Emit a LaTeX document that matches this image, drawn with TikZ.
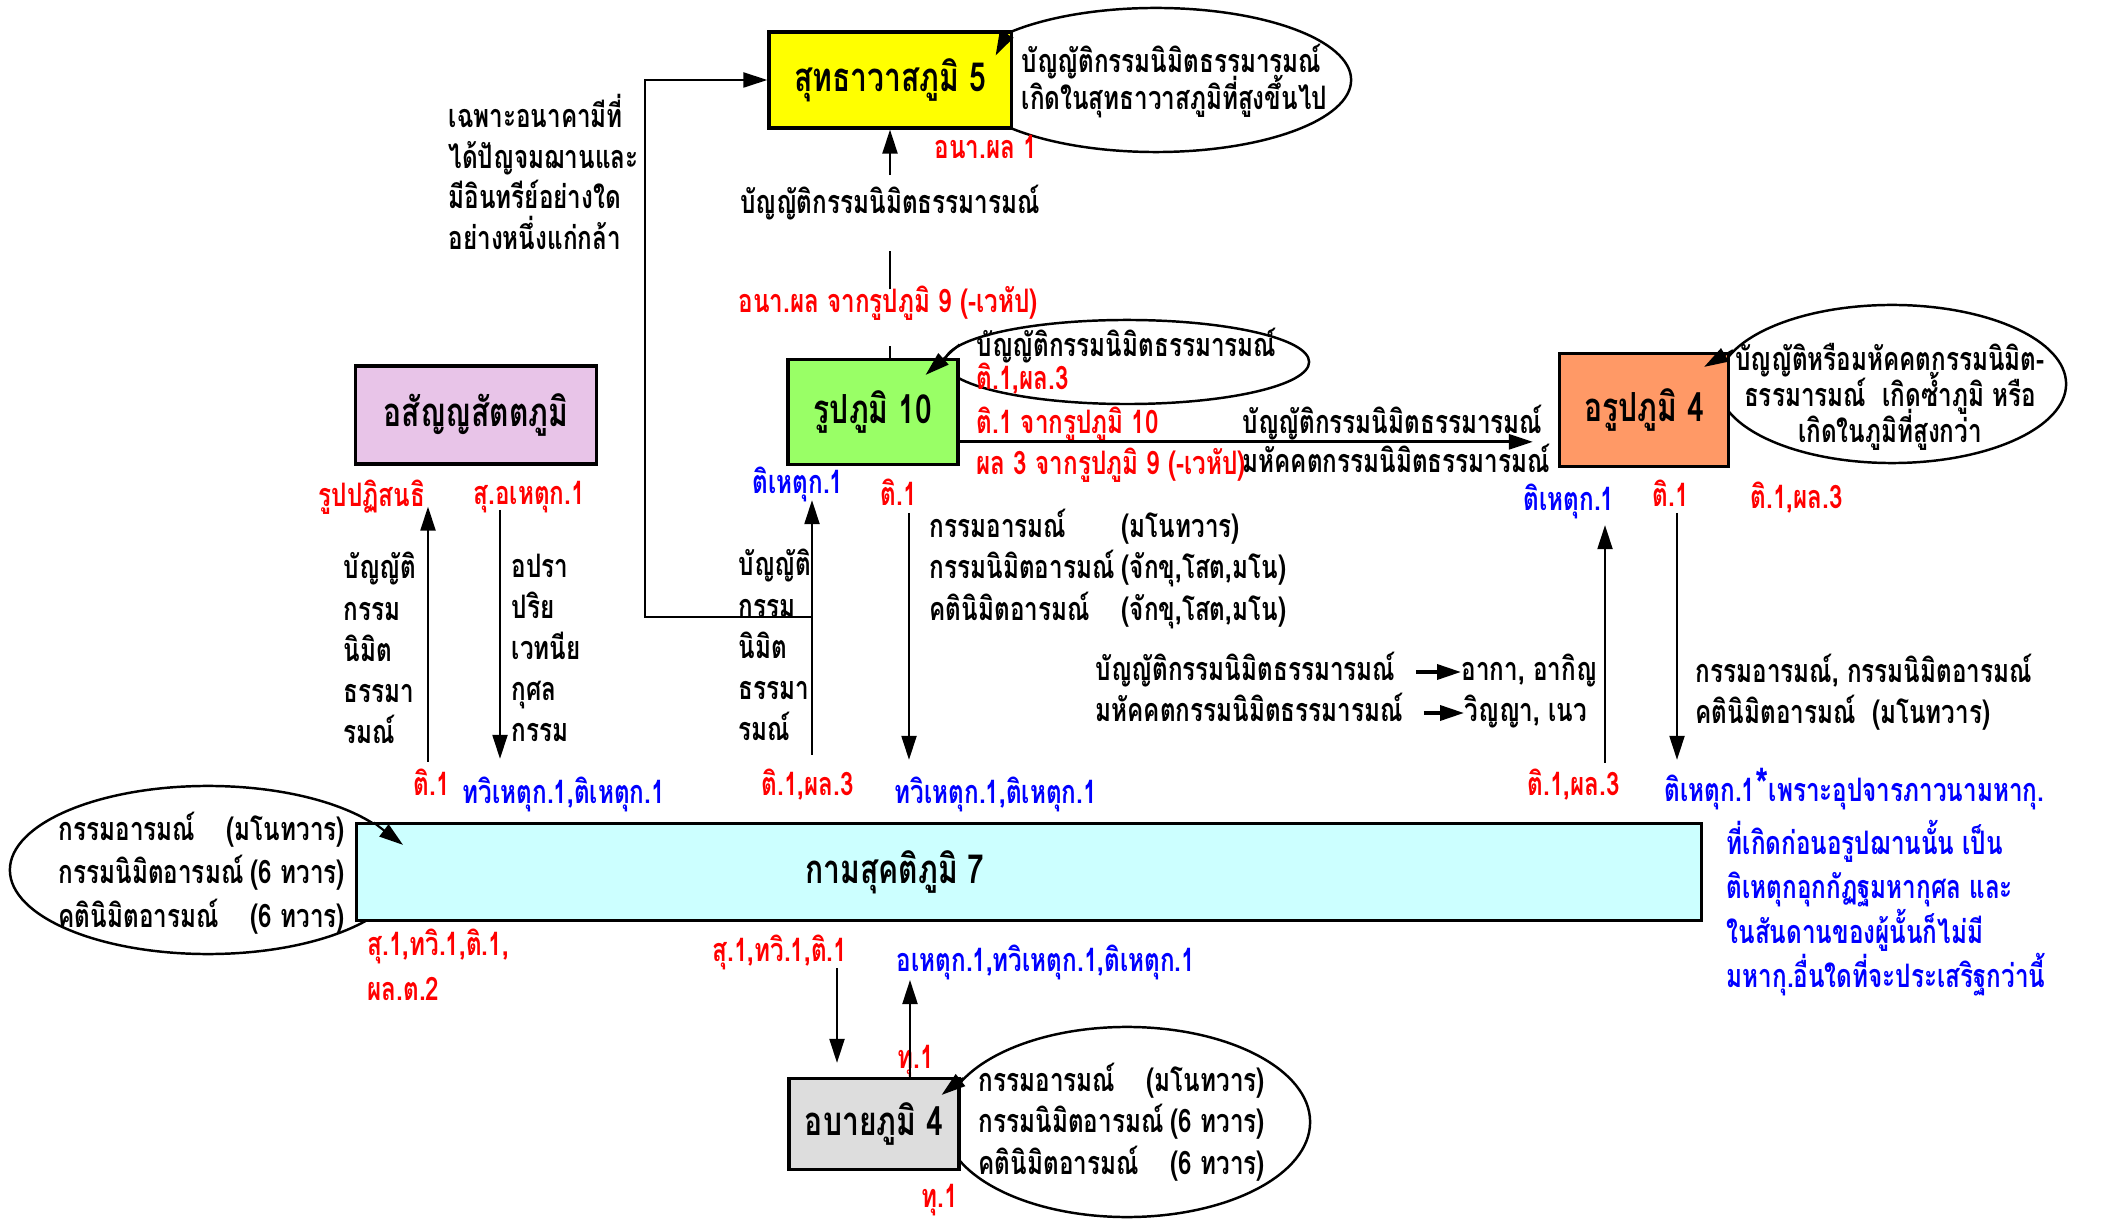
\documentclass[tikz,border=0pt]{standalone}
\usepackage{fontspec}
\setmainfont[Script=Thai, FakeStretch=0.75]{Loma}
\usepackage{xcolor}
\usepackage{tikz}
\usetikzlibrary{shapes}
\usetikzlibrary{arrows.meta}

\definecolor{suddhacol}{HTML}{FFFF00}
\definecolor{rupacol}{HTML}{99FF66}
\definecolor{arupacol}{HTML}{FF9966}
\definecolor{asanyacol}{HTML}{E8C4E8}
\definecolor{kamacol}{HTML}{CCFFFF}
\definecolor{apayacol}{HTML}{DDDDDD}
\lineskiplimit=-100pt

\begin{document}
\begin{tikzpicture}
[
    x = 0.01cm, y = -0.01cm,
    every node/.append style = {font = \fontsize{9.2}{11.7}\selectfont\bfseries, inner sep = 0pt},
    bhumi/.style = {draw, line width = 0.9pt, font = \fontsize{11.4}{12}\selectfont\bfseries},
    bubble/.style = {draw, ellipse, line width = 0.7pt},
    lbl/.style = {anchor = west, text height = 7.4pt, text depth = 2.6pt},
    redlbl/.style = {lbl, text = red},
    bluelbl/.style = {lbl, text = blue},
    block/.style = {anchor = west, align = left},
    arr/.style = {-{Triangle[length = 2.4mm, width = 1.5mm]}, line width = 0.6pt}]

\useasboundingbox (0,0) rectangle (2109,1219);

\node[bubble, minimum width = 3.9cm, minimum height = 1.44cm] (suddhaell) at (1156,80) {};
\node[bubble, minimum width = 3.64cm, minimum height = 0.84cm] (rupaell) at (1127,362) {};
\node[bubble, minimum width = 3.48cm, minimum height = 1.58cm] (arupaell) at (1892,384) {};
\node[bubble, minimum width = 3.96cm, minimum height = 1.68cm] (kamaell) at (208,870) {};
\node[bubble, minimum width = 3.66cm, minimum height = 1.9cm] (apayaell) at (1127,1122) {};

\node[bhumi, fill = suddhacol, minimum width = 2.42cm, minimum height = 0.96cm] (suddha) at (890,80) {สุทธาวาสภูมิ 5};
\node[bhumi, fill = rupacol, minimum width = 1.70cm, minimum height = 1.05cm] (rupa) at (873,412) {รูปภูมิ 10};
\node[bhumi, fill = arupacol, minimum width = 1.69cm, minimum height = 1.13cm] (arupa) at (1644,410) {อรูปภูมิ 4};
\node[bhumi, fill = asanyacol, minimum width = 2.41cm, minimum height = 0.98cm] (asanya) at (476,415) {อสัญญสัตตภูมิ};
\node[bhumi, fill = kamacol, minimum width = 13.44cm, minimum height = 0.97cm] (kama) at (1029,872) {};
\node[bhumi, fill = apayacol, minimum width = 1.70cm, minimum height = 0.91cm] (apaya) at (874,1124) {อบายภูมิ 4};
\node[font = \fontsize{11.4}{12}\selectfont\bfseries] (kamatxt) at (895,872) {กามสุคติภูมิ 7};

\node[block, font = \fontsize{9.2}{11.5}\selectfont\bfseries] (anagami) at (448,172) {เฉพาะอนาคามีที่\\ได้ปัญจมฌานและ\\มีอินทรีย์อย่างใด\\อย่างหนึ่งแก่กล้า};
\node[block, font = \fontsize{9.2}{10.5}\selectfont\bfseries] (suddhanote) at (1021,81) {บัญญัติกรรมนิมิตธรรมารมณ์\\เกิดในสุทธาวาสภูมิที่สูงขึ้นไป};
\node[redlbl] (anaphon1) at (934,150) {อนา.ผล 1};
\node[lbl, anchor = center] (bancha1) at (890,205) {บัญญัติกรรมนิมิตธรรมารมณ์};
\node[redlbl, anchor = center] (anaphon9) at (888,304) {อนา.ผล จากรูปภูมิ 9 (-เวหัป)};
\node[lbl] (rupanote) at (976,348) {บัญญัติกรรมนิมิตธรรมารมณ์};
\node[redlbl] (rupanote2) at (976,381) {ติ.1,ผล.3};
\node[redlbl] (tirupa10) at (976,425) {ติ.1 จากรูปภูมิ 10};
\node[redlbl] (phonrupa9) at (976,466) {ผล 3 จากรูปภูมิ 9 (-เวหัป)};
\node[lbl] (bancha2) at (1242,425) {บัญญัติกรรมนิมิตธรรมารมณ์};
\node[lbl] (mahakkata) at (1242,464) {มหัคคตกรรมนิมิตธรรมารมณ์};
\node[align = center, font = \fontsize{9.2}{10.2}\selectfont\bfseries] (arupanote) at (1890,397) {บัญญัติหรือมหัคคตกรรมนิมิต-\\ธรรมารมณ์~ เกิดซ้ำภูมิ หรือ\\เกิดในภูมิที่สูงกว่า};

\node[redlbl] (rupapati) at (318,498) {รูปปฏิสนธิ};
\node[redlbl] (suahetu) at (473,496) {สุ.อเหตุก.1};
\node[block] (pinkleft) at (343,648) {บัญญัติ\\กรรม\\นิมิต\\ธรรมา\\รมณ์};
\node[block] (pinkright) at (511,648) {อปรา\\ปริย\\เวทนีย\\กุศล\\กรรม};
\node[redlbl] (tipink) at (413,787) {ติ.1};
\node[bluelbl] (dvipink) at (462,795) {ทวิเหตุก.1,ติเหตุก.1};

\node[bluelbl] (tihetrupa) at (752,485) {ติเหตุก.1};
\node[redlbl] (tirupa) at (880,497) {ติ.1};
\node[block] (rupacolumn) at (738,645) {บัญญัติ\\กรรม\\นิมิต\\ธรรมา\\รมณ์};
\node[redlbl] (tiphonrupa) at (761,787) {ติ.1,ผล.3};
\node[bluelbl] (dvirupa) at (894,795) {ทวิเหตุก.1,ติเหตุก.1};
\node[block] (rupaaram) at (929,569) {\makebox[1.92cm][l]{กรรมอารมณ์}(มโนทวาร)\\\makebox[1.92cm][l]{กรรมนิมิตอารมณ์}(จักขุ,โสต,มโน)\\\makebox[1.92cm][l]{คตินิมิตอารมณ์}(จักขุ,โสต,มโน)};

\node[lbl] (bancha3) at (1095,672) {บัญญัติกรรมนิมิตธรรมารมณ์};
\node[lbl] (akasa) at (1461,672) {อากา, อากิญ};
\node[lbl] (mahakkata2) at (1095,713) {มหัคคตกรรมนิมิตธรรมารมณ์};
\node[lbl] (vinyana) at (1464,713) {วิญญา, เนว};

\node[bluelbl] (tihetarupa) at (1523,502) {ติเหตุก.1};
\node[redlbl] (tiarupa) at (1652,498) {ติ.1};
\node[redlbl] (tiphonarupa) at (1750,500) {ติ.1,ผล.3};
\node[block] (arupaaram) at (1695,692) {กรรมอารมณ์, กรรมนิมิตอารมณ์\\คตินิมิตอารมณ์~ (มโนทวาร)};
\node[redlbl] (tiphonkama) at (1527,787) {ติ.1,ผล.3};
\node[bluelbl] (tihetkama) at (1664,793) {ติเหตุก.1{\fontsize{13}{13}\selectfont *}เพราะอุปจารภาวนามหากุ.};
\node[block, text = blue, font = \fontsize{9.2}{12.6}\selectfont\bfseries] (tihetnote) at (1726,908) {ที่เกิดก่อนอรูปฌานนั้น เป็น\\ติเหตุกอุกกัฏฐมหากุศล และ\\ในสันดานของผู้นั้นก็ไม่มี\\มหากุ.อื่นใดที่จะประเสริฐกว่านี้};

\node[block, font = \fontsize{9.2}{12.4}\selectfont\bfseries] (kamaaram) at (58,873) {\makebox[2.86cm]{กรรมอารมณ์\hfill(มโนทวาร)}\\\makebox[2.86cm]{กรรมนิมิตอารมณ์\hfill(6 ทวาร)}\\\makebox[2.86cm]{คตินิมิตอารมณ์\hfill(6 ทวาร)}};
\node[block, text = red, font = \fontsize{9.2}{12.8}\selectfont\bfseries] (sudvikama) at (367,965) {สุ.1,ทวิ.1,ติ.1,\\ผล.ต.2};
\node[redlbl] (sudviapaya) at (712,953) {สุ.1,ทวิ.1,ติ.1};
\node[bluelbl] (ahetapaya) at (896,963) {อเหตุก.1,ทวิเหตุก.1,ติเหตุก.1};
\node[redlbl] (du1) at (897,1060) {ทุ.1};
\node[redlbl] (du2) at (921,1199) {ทุ.1};
\node[block, font = \fontsize{9.2}{11.8}\selectfont\bfseries] (apayaaram) at (978,1122) {\makebox[2.86cm]{กรรมอารมณ์\hfill(มโนทวาร)}\\\makebox[2.86cm]{กรรมนิมิตอารมณ์\hfill(6 ทวาร)}\\\makebox[2.86cm]{คตินิมิตอารมณ์\hfill(6 ทวาร)}};

\draw[arr] (suddhaell.162) -- ([shift = {(-17,25)}]suddha.north east);
\draw[arr] (rupaell.174) -- ([shift = {(-34,17)}]rupa.north east);
\draw[arr] (arupaell.168) -- ([shift = {(-26,15)}]arupa.north east);
\draw[arr] (kamaell.16) -- ([shift = {(48,23)}]kama.north west);
\draw[arr] (apayaell.165) -- ([shift = {(-19,18)}]apaya.north east);

\draw[arr, shorten <= 0.115cm] (bancha1) -- (suddha);
\draw[shorten <= 0.145cm, shorten >= 0.275cm] (anaphon9 -| bancha1) -- (bancha1);
\draw[shorten >= 0.235cm] (bancha1 |- rupa.north) -- (bancha1 |- anaphon9.south);

\coordinate (pinkup) at (428,762);
\draw[arr, shorten >= 0.41cm] (pinkup) -- (pinkup |- asanya.south);
\coordinate (pinkdown) at (500,510);
\draw[arr, shorten >= 0.63cm] (pinkdown) -- (pinkdown |- kama.north);

\coordinate (rupaup) at (812,755);
\draw[arr, shorten >= 0.34cm] (rupaup) -- (rupaup |- rupa.south);
\coordinate (loopcorner) at (645,617);
\draw[arr] (rupaup |- loopcorner) -- (loopcorner) |- (suddha.west);
\coordinate (rupadown) at (909,513);
\draw[arr, shorten >= 0.62cm] (rupadown) -- (rupadown |- kama.north);
\draw[arr, line width = 0.8pt, shorten >= 0.25cm] (rupa.341) -- (rupa.341 -| arupa.west);

\coordinate (arupaup) at (1605,763);
\draw[arr, shorten >= 0.57cm] (arupaup) -- (arupaup |- arupa.south);
\coordinate (arupadown) at (1677,513);
\draw[arr, shorten >= 0.62cm] (arupadown) -- (arupadown |- kama.north);

\draw[arr, line width = 1pt, shorten <= 0.2cm] (bancha3) -- (akasa);
\draw[arr, line width = 1pt, shorten <= 0.2cm] (mahakkata2) -- (vinyana);

\coordinate (apayadown) at (837,968);
\draw[arr, shorten >= 0.14cm] (apayadown) -- (apayadown |- apaya.north);
\coordinate (apayaup) at (910,980);
\draw[arr] (apayaup |- apaya.north) -- (apayaup);

\end{tikzpicture}
\end{document}
